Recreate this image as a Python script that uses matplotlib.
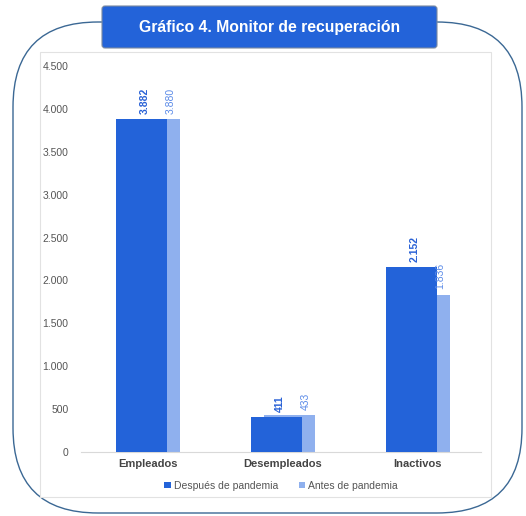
import numpy as np
import matplotlib
matplotlib.use("Agg")
import matplotlib.pyplot as plt
from matplotlib.patches import FancyBboxPatch, Rectangle

# --- data ---
categorias = ["Empleados", "Desempleados", "Inactivos"]
despues = [3882, 411, 2152]
antes = [3880, 433, 1836]
etiquetas_despues = ["3.882", "411", "2.152"]
etiquetas_antes = ["3.880", "433", "1.836"]
yticks = [0, 500, 1000, 1500, 2000, 2500, 3000, 3500, 4000, 4500]
ytick_labels = ["0", "500", "1.000", "1.500", "2.000", "2.500", "3.000", "3.500", "4.000", "4.500"]

dark = "#2363d9"
light = "#8fb0ee"
plt.rcParams["font.family"] = ["Liberation Sans", "DejaVu Sans"]

fig = plt.figure(figsize=(5.26, 5.16), dpi=100)

# outer rounded frame + inner chart box
fig.patches.append(FancyBboxPatch((0.13 + 0.85, 0.03 + 0.85), 5.09 - 1.7, 4.91 - 1.7,
                                  boxstyle="round,pad=0.85", transform=fig.dpi_scale_trans,
                                  fc="white", ec="#3b6894", lw=1.0, zorder=0))
fig.patches.append(Rectangle((0.40, 0.19), 4.51, 4.45, transform=fig.dpi_scale_trans,
                             fc="white", ec="#e2e2e2", lw=0.8, zorder=1))
# title box
fig.patches.append(FancyBboxPatch((1.05, 4.71), 3.29, 0.36, boxstyle="round,pad=0.03",
                                  transform=fig.dpi_scale_trans, fc=dark, ec="#7a8aa0",
                                  lw=0.8, zorder=2))
fig.text(2.695 / 5.26, 4.89 / 5.16, "Gráfico 4. Monitor de recuperación", color="white",
         fontsize=11.3, fontweight="bold", ha="center", va="center", zorder=3)

ax = fig.add_axes([81 / 526, 1 - 452 / 516, 400 / 526, 386 / 516], zorder=4)
ax.patch.set_alpha(0)
x = np.arange(len(categorias))
w = 0.378
ax.bar(x + 0.055, antes, w, color=light, label="Antes de pandemia", zorder=2)
ax.bar(x - 0.045, despues, w, color=dark, label="Después de pandemia", zorder=3)

for i in range(len(categorias)):
    ax.text(x[i] - 0.02, despues[i] + 60, etiquetas_despues[i], rotation=90, ha="center",
            va="bottom", fontsize=7.5, fontweight="bold", color="#2a62d6", zorder=5)
    ax.text(x[i] + 0.17, antes[i] + 60, etiquetas_antes[i], rotation=90, ha="center",
            va="bottom", fontsize=7.5, color="#5b8be8", zorder=5)

ax.set_xlim(-0.493, 2.47)
ax.set_ylim(0, 4500)
ax.set_yticks(yticks)
ax.set_yticklabels(ytick_labels, fontsize=7.5, color="#555555")
ax.set_xticks(x)
ax.set_xticklabels(categorias, fontsize=8, fontweight="bold", color="#444444")
ax.tick_params(length=0, pad=9)
ax.tick_params(axis="x", pad=5)
for s in ["top", "right", "left"]:
    ax.spines[s].set_visible(False)
ax.spines["bottom"].set_color("#d9d9d9")

h, l = ax.get_legend_handles_labels()
ax.legend(h[::-1], l[::-1], loc="upper center", bbox_to_anchor=(0.5, -0.05), ncol=2,
          frameon=False, fontsize=7.5, handlelength=0.6, handleheight=0.6,
          handletextpad=0.3, columnspacing=2.0, labelcolor="#555555")

fig.savefig("out.png", dpi=100)
